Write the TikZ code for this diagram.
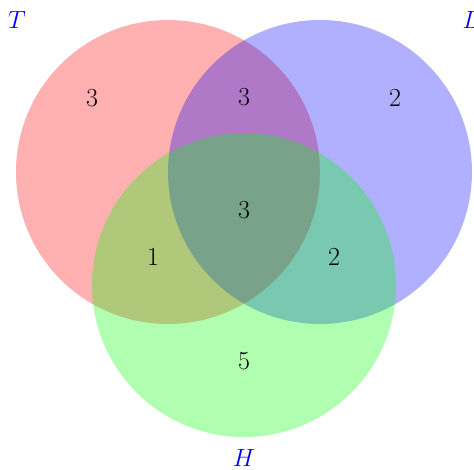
\documentclass[tikz,border=0pt]{standalone}
\begin{document}
\begin{tikzpicture}[x=1pt,y=-1pt,
  setc/.style={fill opacity=0.31, draw=none},
  num/.style={font=\fontsize{26}{30}\selectfont, text=black, inner sep=0pt},
  setlabel/.style={font=\fontsize{26}{30}\selectfont, text=blue, inner sep=0pt}]
\useasboundingbox (0,0) rectangle (474,470);
\fill[setc, fill=red] (168,172) circle (152);
\fill[setc, fill=blue] (320,172) circle (152);
\fill[setc, fill=green] (244,285) circle (152);
\node[num] (nT) at (92,98) {3};
\node[num] (nTL) at (244,97) {3};
\node[num] (nL) at (395,98) {2};
\node[num] (nTLH) at (244,210) {3};
\node[num] (nTH) at (153,257) {1};
\node[num] (nLH) at (334,257) {2};
\node[num] (nH) at (244,361) {5};
\node[setlabel] (lT) at (17,20) {$T$};
\node[setlabel] (lL) at (471,20) {$L$};
\node[setlabel] (lH) at (244,458) {$H$};
\end{tikzpicture}
\end{document}
